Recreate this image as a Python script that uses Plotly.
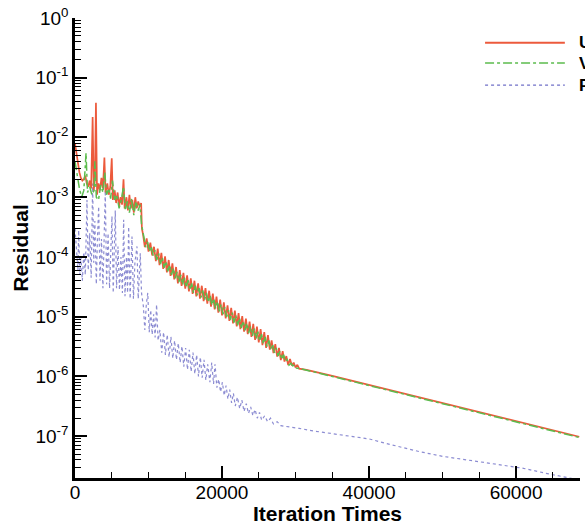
import plotly.graph_objects as go

# ---------------- data ----------------
u_iter = [0, 200, 400, 600, 800, 1000, 1200, 1400, 1600, 1800, 2000, 2200, 2400, 2550, 2700, 2850,
          3000, 3200, 3400, 3600, 3800, 4000, 4150, 4400, 4600, 4800, 5000, 5150, 5400, 5600, 5800,
          6000, 6200, 6400, 6600, 6750, 7000, 7200, 7400, 7600, 7800, 8000, 8200, 8400, 8600, 8800,
          9000, 9100,
          9250, 9500, 9750, 10000, 10250, 10500, 10750, 11000, 11250, 11500, 11750, 12000, 12250,
          12500, 12750, 13000, 13250, 13500, 13750, 14000, 14250, 14500, 14750, 15000, 15250, 15500,
          15750, 16000, 16250, 16500, 16750, 17000, 17250, 17500, 17750, 18000, 18250, 18500, 18750,
          19000, 19250, 19500, 19750, 20000, 20250, 20500, 20750, 21000, 21250, 21500, 21750, 22000,
          22250, 22500, 22750, 23000, 23250, 23500, 23750, 24000, 24250, 24500, 24750, 25000, 25250,
          25500, 25750, 26000, 26250, 26500, 26750, 27000, 27250, 27500, 27750, 28000, 28250, 28500,
          28750, 29000, 29250, 29500, 29750, 30000, 30250, 30500,
          31500, 33000, 35000, 68600]
u_res = [8.0e-3, 5.5e-3, 3.5e-3, 2.6e-3, 2.1e-3, 1.9e-3, 2.0e-3, 2.3e-3, 1.7e-3, 1.5e-3, 1.9e-3,
         1.4e-3, 2.2e-2, 1.3e-3, 1.9e-3, 3.8e-2, 1.1e-3, 1.7e-3, 1.3e-3, 2.1e-3, 1.4e-3, 4.6e-3,
         1.2e-3, 1.7e-3, 1.1e-3, 1.5e-3, 4.5e-3, 9.0e-4, 1.3e-3, 8.0e-4, 1.2e-3, 7.0e-4, 1.0e-3,
         7.5e-4, 2.0e-3, 6.5e-4, 1.0e-3, 6.0e-4, 1.1e-3, 6.5e-4, 9.0e-4, 5.5e-4, 1.0e-3, 6.5e-4,
         8.5e-4, 7.0e-4, 8.0e-4, 3.0e-4,
         2.40e-4, 1.46e-4, 2.04e-4, 1.23e-4, 1.74e-4, 1.06e-4, 1.48e-4, 8.5e-5, 1.38e-4, 7.3e-5,
         1.17e-4, 6.3e-5, 1.02e-4, 5.5e-5, 8.9e-5, 4.8e-5, 7.8e-5, 4.2e-5, 6.8e-5, 3.6e-5,
         6.0e-5, 3.27e-5, 5.4e-5, 2.95e-5, 4.9e-5, 2.66e-5, 4.4e-5, 2.4e-5, 4.0e-5, 2.19e-5,
         3.6e-5, 2.0e-5, 3.3e-5, 1.82e-5, 3.0e-5, 1.66e-5, 2.72e-5, 1.48e-5, 2.43e-5, 1.32e-5,
         2.16e-5, 1.17e-5, 1.93e-5, 1.05e-5, 1.74e-5, 9.4e-6, 1.55e-5, 8.5e-6, 1.41e-5, 7.7e-6,
         1.26e-5, 6.9e-6, 1.15e-5, 6.2e-6, 1.02e-5, 5.6e-6, 9.3e-6, 5.1e-6, 8.3e-6, 4.6e-6,
         7.6e-6, 4.1e-6, 6.8e-6, 3.7e-6, 6.2e-6, 3.35e-6, 5.5e-6, 3.0e-6, 4.9e-6, 2.82e-6,
         4.0e-6, 2.45e-6, 3.47e-6, 2.14e-6, 3.0e-6, 1.88e-6, 2.66e-6, 1.78e-6, 2.19e-6, 1.55e-6,
         1.95e-6, 1.53e-6, 1.70e-6, 1.41e-6, 1.57e-6, 1.35e-6,
         1.29e-6, 1.16e-6, 1.02e-6, 9.8e-8]

v_iter = [0, 300, 600, 900, 1200, 1500, 1700, 2000, 2300, 2600, 2700, 2900, 3200, 3500, 3800, 4050,
          4300, 4600, 4850, 5100, 5400, 5700, 6000, 6300, 6600, 6850, 7100, 7400, 7700, 8000, 8300,
          8600, 8850, 9050,
          9375, 9625, 9875, 10125, 10375, 10625, 10875, 11125, 11375, 11625, 11875, 12125, 12375,
          12625, 12875, 13125, 13375, 13625, 13875, 14125, 14375, 14625, 14875, 15125, 15375, 15625,
          15875, 16125, 16375, 16625, 16875, 17125, 17375, 17625, 17875, 18125, 18375, 18625, 18875,
          19125, 19375, 19625, 19875, 20125, 20375, 20625, 20875, 21125, 21375, 21625, 21875, 22125,
          22375, 22625, 22875, 23125, 23375, 23625, 23875, 24125, 24375, 24625, 24875, 25125, 25375,
          25625, 25875, 26125, 26375, 26625, 26875, 27125, 27375, 27625, 27875, 28125, 28375, 28625,
          28875, 29125, 29375, 29625, 29875, 30125,
          30500, 31500, 33000, 35000, 68600]
v_res = [4.0e-3, 2.2e-3, 1.4e-3, 1.0e-3, 1.3e-3, 5.5e-3, 1.2e-3, 1.5e-3, 1.1e-3, 1.3e-3, 4.0e-3,
         1.0e-3, 9.0e-4, 1.6e-3, 1.2e-3, 2.6e-3, 1.1e-3, 1.4e-3, 9.5e-4, 1.9e-3, 9.0e-4, 1.1e-3,
         6.5e-4, 9.0e-4, 1.5e-3, 6.0e-4, 8.5e-4, 5.5e-4, 9.5e-4, 5.0e-4, 8.5e-4, 6.0e-4, 7.5e-4,
         3.5e-4,
         2.09e-4, 1.46e-4, 1.78e-4, 1.23e-4, 1.51e-4, 1.06e-4, 1.29e-4, 8.9e-5, 1.15e-4, 7.7e-5,
         9.8e-5, 6.6e-5, 8.5e-5, 5.75e-5, 7.4e-5, 5.0e-5, 6.5e-5, 4.4e-5, 5.6e-5, 3.8e-5,
         5.0e-5, 3.43e-5, 4.5e-5, 3.1e-5, 4.1e-5, 2.79e-5, 3.6e-5, 2.5e-5, 3.3e-5, 2.29e-5,
         3.0e-5, 2.09e-5, 2.75e-5, 1.91e-5, 2.5e-5, 1.74e-5, 2.26e-5, 1.55e-5, 2.02e-5, 1.38e-5,
         1.80e-5, 1.23e-5, 1.60e-5, 1.10e-5, 1.45e-5, 9.9e-6, 1.29e-5, 8.9e-6, 1.17e-5, 8.0e-6,
         1.05e-5, 7.2e-6, 9.5e-6, 6.5e-6, 8.5e-6, 5.9e-6, 7.8e-6, 5.3e-6, 6.9e-6, 4.8e-6,
         6.3e-6, 4.3e-6, 5.6e-6, 3.9e-6, 5.1e-6, 3.5e-6, 4.6e-6, 3.16e-6, 4.0e-6, 2.88e-6,
         3.47e-6, 2.5e-6, 3.0e-6, 2.19e-6, 2.63e-6, 1.93e-6, 2.32e-6, 1.78e-6, 1.91e-6, 1.55e-6,
         1.66e-6, 1.50e-6, 1.55e-6, 1.38e-6,
         1.36e-6, 1.26e-6, 1.15e-6, 1.0e-6, 9.5e-8]

p_iter = [0, 200, 400, 500, 650, 800, 1000, 1200, 1400, 1630, 1800, 2000, 2200, 2400, 2550, 2700,
          2900, 3050, 3220, 3400, 3600, 3800, 3950, 4120, 4300, 4500, 4700, 4850, 5030, 5200, 5480,
          5650, 5850, 6050, 6250, 6450, 6620, 6800, 7000, 7150, 7300, 7500, 7750, 7950, 8150, 8430,
          8600, 8880, 9050,
          9300, 9500, 9700, 9900, 10100, 10300, 10500, 10700, 10900, 11100, 11300, 11550, 11800,
          12050, 12300, 12550, 12800, 13050, 13300, 13550, 13800, 14050, 14300, 14550, 14800, 15050,
          15300, 15550, 15800, 16050, 16300, 16550, 16800, 17050, 17300, 17550, 17800, 18050, 18350,
          18600, 18850, 19050, 19300, 19550, 19800, 20050, 20300, 20550, 20800, 21050, 21300, 21550,
          21800, 22100, 22400, 22700, 23000, 23300, 23600, 23900, 24200, 24500, 24800, 25100, 25400,
          25800, 26200, 26600, 27000, 27500, 28000, 29000, 30500, 32500, 34650, 37000, 40000, 43000,
          46900, 50000, 54000, 58000, 61000, 64000, 67000, 68600]
p_res = [3.0e-4, 1.2e-4, 6.0e-5, 2.8e-4, 5.0e-5, 1.0e-4, 4.0e-5, 1.2e-4, 5.0e-5, 9.0e-4, 6.0e-5,
         2.5e-4, 4.5e-5, 1.7e-3, 8.0e-5, 4.0e-4, 3.5e-5, 2.0e-4, 7.0e-4, 4.0e-5, 2.0e-4, 3.0e-5,
         1.5e-4, 1.3e-3, 3.5e-5, 2.5e-4, 3.0e-5, 1.2e-4, 4.8e-4, 2.5e-5, 6.0e-4, 3.0e-5, 1.5e-4,
         2.8e-5, 1.0e-4, 2.5e-5, 4.2e-4, 2.2e-5, 1.0e-4, 2.5e-5, 3.2e-4, 2.0e-5, 2.2e-4, 2.0e-5,
         8.0e-5, 1.5e-4, 2.0e-5, 1.15e-4, 2.5e-5,
         1.5e-5, 6.0e-6, 1.6e-5, 2.5e-5, 5.5e-6, 1.3e-5, 5.0e-6, 1.1e-5, 4.5e-6, 1.6e-5, 4.0e-6,
         6.0e-6, 2.5e-6, 5.5e-6, 2.3e-6, 5.0e-6, 2.1e-6, 4.6e-6, 2.0e-6, 4.0e-6, 1.9e-6, 3.6e-6,
         1.7e-6, 3.2e-6, 1.45e-6, 3.0e-6, 1.3e-6, 2.8e-6, 1.2e-6, 2.5e-6, 1.1e-6, 2.3e-6, 1.0e-6,
         2.1e-6, 9.5e-7, 1.9e-6, 8.7e-7, 1.6e-6, 8.0e-7, 1.7e-6, 7.5e-7, 1.6e-6, 6.5e-7, 9.0e-7,
         5.5e-7, 8.0e-7, 4.8e-7, 7.0e-7, 4.2e-7, 6.0e-7, 3.6e-7, 5.2e-7, 3.2e-7, 4.5e-7, 2.9e-7,
         4.0e-7, 2.6e-7, 3.5e-7, 2.4e-7, 3.1e-7, 2.2e-7, 2.8e-7, 2.0e-7, 2.5e-7, 1.85e-7, 2.2e-7,
         1.75e-7, 2.0e-7, 1.6e-7, 1.75e-7, 1.5e-7, 1.45e-7, 1.35e-7, 1.22e-7, 1.12e-7, 1.0e-7,
         9.0e-8, 7.2e-8, 5.5e-8, 4.6e-8, 3.9e-8, 3.3e-8, 2.9e-8, 2.4e-8, 2.05e-8, 1.85e-8]

series_names = ["U", "V", "P"]
x_tick_vals = [0, 20000, 40000, 60000]
x_tick_text = ["0", "20000", "40000", "60000"]
y_tick_vals = [1e0, 1e-1, 1e-2, 1e-3, 1e-4, 1e-5, 1e-6, 1e-7]
y_tick_text = ["10<sup>0</sup>", "10<sup>-1</sup>", "10<sup>-2</sup>", "10<sup>-3</sup>",
               "10<sup>-4</sup>", "10<sup>-5</sup>", "10<sup>-6</sup>", "10<sup>-7</sup>"]
x_title = "Iteration Times"
y_title = "Residual"

# ---------------- styling ----------------
C_U = "#ec5a3c"
C_V = "#5cbc4e"
C_P = "#7070c8"
FONT = "Liberation Sans, Arial, Helvetica, sans-serif"

fig = go.Figure()
fig.add_trace(go.Scatter(x=p_iter, y=p_res, mode="lines", name=series_names[2],
                         line=dict(color=C_P, width=1.2, dash="dot"), opacity=0.8, showlegend=False))
fig.add_trace(go.Scatter(x=u_iter, y=u_res, mode="lines", name=series_names[0],
                         line=dict(color=C_U, width=1.7), showlegend=False))
fig.add_trace(go.Scatter(x=v_iter, y=v_res, mode="lines", name=series_names[1],
                         line=dict(color=C_V, width=1.5, dash="dashdot"), showlegend=False))

# legend drawn in paper coordinates (long line samples like the reference)
legend_rows = [0.946, 0.902, 0.854]
legend_styles = [dict(color=C_U, width=2), dict(color=C_V, width=1.5, dash="dashdot"),
                 dict(color=C_P, width=1.3, dash="dot")]
for name, yy, st in zip(series_names, legend_rows, legend_styles):
    fig.add_shape(type="line", xref="paper", yref="paper", x0=0.812, x1=0.970, y0=yy, y1=yy,
                  line=st)
    fig.add_annotation(xref="paper", yref="paper", x=0.994, y=yy, text="<b>%s</b>" % name,
                       showarrow=False, xanchor="left", yanchor="middle",
                       font=dict(family=FONT, size=17, color="black"))

# x-axis title placed as annotation (exact vertical position)
fig.add_annotation(xref="paper", yref="paper", x=0.5, y=-0.078, text="<b>%s</b>" % x_title,
                   showarrow=False, xanchor="center", yanchor="middle",
                   font=dict(family=FONT, size=21, color="black"))

fig.update_layout(
    width=585, height=530,
    margin=dict(l=75, r=5, t=18, b=52, autoexpand=False),
    paper_bgcolor="white", plot_bgcolor="white",
    font=dict(family=FONT, size=16, color="black"),
    showlegend=False,
)
fig.update_xaxes(
    range=[0, 68700], showgrid=False, zeroline=False,
    showline=True, linecolor="black", linewidth=2.5, mirror=False,
    tickmode="array", tickvals=x_tick_vals, ticktext=x_tick_text,
    ticks="inside", ticklen=12, tickwidth=2, tickcolor="black",
    minor=dict(tickmode="linear", tick0=0, dtick=5000, ticks="inside", ticklen=6,
               tickwidth=1.2, tickcolor="black", showgrid=False),
    tickfont=dict(size=19), ticklabelstandoff=-5,
)
fig.update_yaxes(
    type="log", range=[-7.70, 0], showgrid=False, zeroline=False,
    showline=True, linecolor="black", linewidth=2.5, mirror=False,
    tickmode="array", tickvals=y_tick_vals, ticktext=y_tick_text,
    ticks="inside", ticklen=12, tickwidth=2, tickcolor="black",
    minor=dict(tickmode="array",
               tickvals=[m * 10.0 ** e for e in range(-8, 0) for m in range(2, 10)],
               ticks="inside", ticklen=6, tickwidth=1.2, tickcolor="black", showgrid=False),
    tickfont=dict(size=19),
    title=dict(text="<b>%s</b>" % y_title, font=dict(size=21), standoff=2),
)

fig.write_html("out.html")
